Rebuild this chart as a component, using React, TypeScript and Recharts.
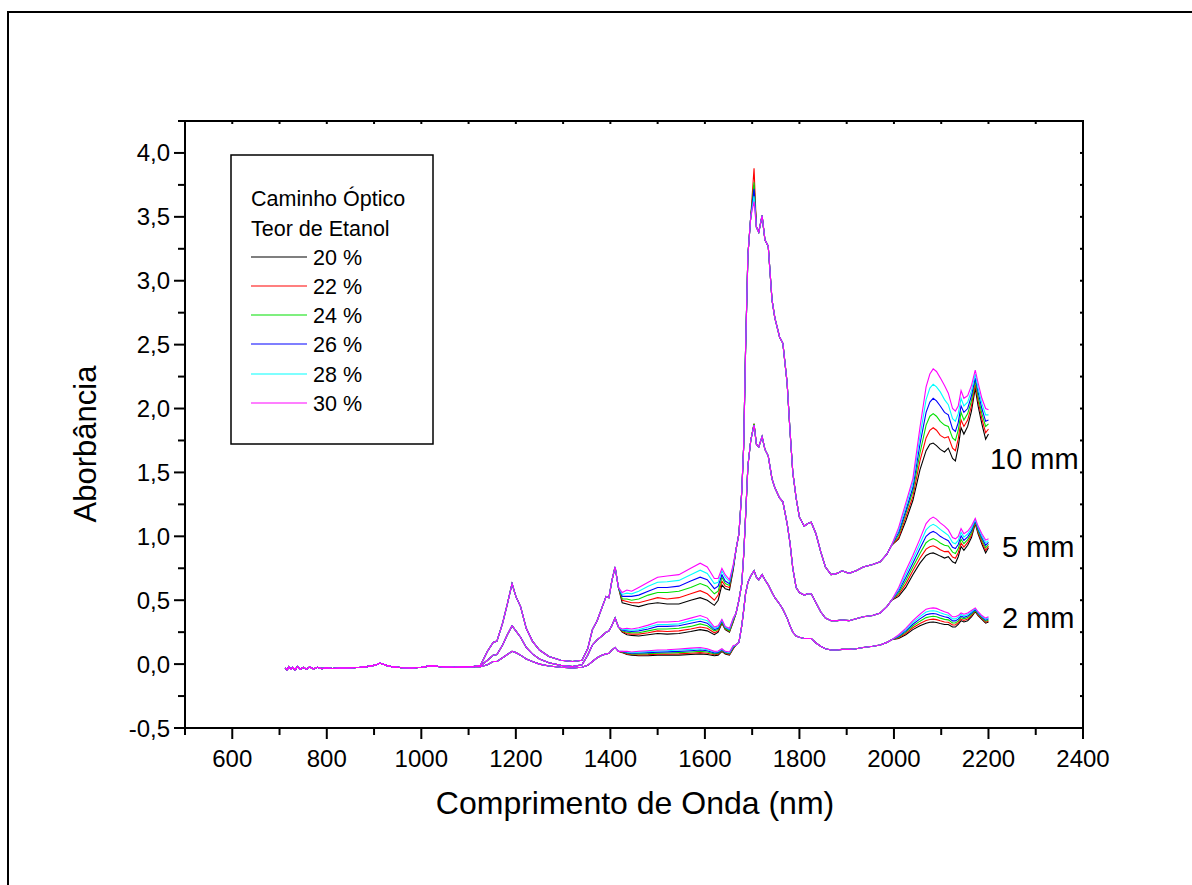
import { LineChart, Line, XAxis, YAxis } from 'recharts';

const concentrations = ['20 %', '22 %', '24 %', '26 %', '28 %', '30 %'];
const pathLabels = ['10 mm', '5 mm', '2 mm'];
const lineColors = ['#000000', '#ff0000', '#00e000', '#0000ff', '#00ffff', '#ff00ff'];

const xTicks = [500, 600, 700, 800, 900, 1000, 1100, 1200, 1300, 1400, 1500, 1600, 1700, 1800, 1900, 2000, 2100, 2200, 2300, 2400];
const yTicks = [-0.5, -0.25, 0, 0.25, 0.5, 0.75, 1, 1.25, 1.5, 1.75, 2, 2.25, 2.5, 2.75, 3, 3.25, 3.5, 3.75, 4, 4.25];

// baseline region, same for every curve
const wlLow = [712, 716, 720, 724, 728, 733, 738, 744, 750, 757, 764, 772, 780, 790, 800, 812, 825, 840, 855, 870, 885, 897, 905, 912, 918, 926, 940, 960, 980, 1000, 1012, 1022, 1035, 1050, 1070, 1090, 1110];
const lowAbs = [-0.03, -0.045, -0.02, -0.04, -0.025, -0.045, -0.02, -0.04, -0.025, -0.04, -0.022, -0.038, -0.025, -0.035, -0.028, -0.034, -0.03, -0.03, -0.028, -0.025, -0.02, -0.012, -0.005, 0.008, 0.0, -0.01, -0.022, -0.028, -0.03, -0.025, -0.018, -0.012, -0.018, -0.022, -0.025, -0.022, -0.02];

// 1125-1417 nm, per optical path
const wlA = [1125, 1140, 1152, 1160, 1172, 1182, 1192, 1200, 1210, 1222, 1235, 1250, 1270, 1295, 1320, 1340, 1352, 1362, 1372, 1382, 1391, 1397, 1403, 1410, 1417];
const a10 = [-0.01, 0.1, 0.17, 0.18, 0.32, 0.47, 0.63, 0.53, 0.45, 0.28, 0.18, 0.11, 0.06, 0.03, 0.02, 0.03, 0.12, 0.27, 0.34, 0.44, 0.53, 0.52, 0.65, 0.76, 0.6];
const a5 = [-0.015, 0.03, 0.07, 0.075, 0.15, 0.23, 0.3, 0.26, 0.21, 0.13, 0.08, 0.04, 0.01, -0.01, -0.02, -0.005, 0.07, 0.15, 0.19, 0.22, 0.25, 0.26, 0.3, 0.36, 0.29];
const a2 = [-0.02, -0.005, 0.02, 0.02, 0.05, 0.075, 0.1, 0.09, 0.07, 0.04, 0.02, 0.0, -0.015, -0.025, -0.03, -0.025, -0.01, 0.02, 0.05, 0.07, 0.08, 0.085, 0.11, 0.13, 0.1];

// 1425-1660 nm, per path and ethanol content
const wlB = [1425, 1435, 1445, 1460, 1480, 1500, 1520, 1545, 1570, 1590, 1605, 1620, 1628, 1636, 1643, 1652, 1660];
const b10_20 = [0.48, 0.47, 0.46, 0.45, 0.47, 0.48, 0.47, 0.47, 0.5, 0.52, 0.5, 0.46, 0.5, 0.62, 0.59, 0.58, 0.74];
const b10_22 = [0.5, 0.49, 0.48, 0.48, 0.5, 0.52, 0.51, 0.52, 0.55, 0.575, 0.55, 0.5, 0.54, 0.65, 0.61, 0.6, 0.75];
const b10_24 = [0.51, 0.51, 0.5, 0.51, 0.54, 0.56, 0.56, 0.57, 0.6, 0.63, 0.61, 0.55, 0.57, 0.68, 0.63, 0.615, 0.76];
const b10_26 = [0.53, 0.53, 0.53, 0.54, 0.57, 0.6, 0.6, 0.61, 0.65, 0.68, 0.66, 0.59, 0.61, 0.7, 0.65, 0.63, 0.76];
const b10_28 = [0.545, 0.555, 0.55, 0.57, 0.61, 0.64, 0.645, 0.655, 0.7, 0.735, 0.71, 0.63, 0.64, 0.73, 0.68, 0.645, 0.77];
const b10_30 = [0.56, 0.58, 0.57, 0.6, 0.64, 0.68, 0.69, 0.7, 0.75, 0.79, 0.76, 0.67, 0.67, 0.75, 0.7, 0.66, 0.78];

const b5_20 = [0.25, 0.23, 0.225, 0.22, 0.23, 0.24, 0.235, 0.24, 0.255, 0.27, 0.26, 0.23, 0.25, 0.32, 0.27, 0.25, 0.33];
const b5_22 = [0.255, 0.24, 0.235, 0.235, 0.245, 0.26, 0.255, 0.26, 0.275, 0.29, 0.28, 0.245, 0.26, 0.325, 0.275, 0.255, 0.335];
const b5_24 = [0.26, 0.25, 0.245, 0.245, 0.26, 0.275, 0.275, 0.28, 0.295, 0.315, 0.3, 0.26, 0.27, 0.33, 0.28, 0.26, 0.34];
const b5_26 = [0.265, 0.26, 0.255, 0.26, 0.275, 0.295, 0.295, 0.3, 0.32, 0.335, 0.32, 0.27, 0.28, 0.34, 0.285, 0.27, 0.35];
const b5_28 = [0.27, 0.27, 0.265, 0.27, 0.29, 0.31, 0.31, 0.315, 0.34, 0.355, 0.34, 0.28, 0.29, 0.345, 0.29, 0.275, 0.355];
const b5_30 = [0.275, 0.28, 0.275, 0.285, 0.305, 0.33, 0.33, 0.335, 0.36, 0.38, 0.36, 0.29, 0.3, 0.35, 0.295, 0.28, 0.36];

const b2_20 = [0.09, 0.075, 0.07, 0.065, 0.065, 0.07, 0.07, 0.07, 0.075, 0.08, 0.075, 0.065, 0.07, 0.1, 0.08, 0.07, 0.12];
const b2_22 = [0.092, 0.08, 0.075, 0.072, 0.074, 0.078, 0.078, 0.08, 0.085, 0.09, 0.085, 0.073, 0.077, 0.105, 0.085, 0.075, 0.125];
const b2_24 = [0.095, 0.085, 0.08, 0.08, 0.082, 0.086, 0.087, 0.09, 0.095, 0.1, 0.095, 0.08, 0.084, 0.108, 0.088, 0.08, 0.13];
const b2_26 = [0.098, 0.09, 0.085, 0.087, 0.09, 0.094, 0.096, 0.1, 0.105, 0.11, 0.105, 0.088, 0.09, 0.112, 0.092, 0.085, 0.135];
const b2_28 = [0.1, 0.095, 0.09, 0.094, 0.098, 0.102, 0.105, 0.11, 0.115, 0.12, 0.113, 0.095, 0.097, 0.116, 0.096, 0.09, 0.14];
const b2_30 = [0.1, 0.1, 0.095, 0.1, 0.105, 0.11, 0.112, 0.118, 0.125, 0.13, 0.12, 0.1, 0.103, 0.12, 0.1, 0.095, 0.145];

// rising edge of the 1704 nm band, per path
const wlC1 = [1666, 1672, 1678, 1682, 1686, 1691, 1697];
const c1_10 = [0.9, 1.02, 1.35, 1.7, 2.45, 3.2, 3.5];
const c1_5 = [0.4, 0.5, 0.63, 0.85, 1.15, 1.55, 1.75];
const c1_2 = [0.15, 0.17, 0.3, 0.42, 0.55, 0.64, 0.69];

// band maximum at 1704 nm
const wlPeak = 1704;
const peak10 = [3.75, 3.88, 3.77, 3.72, 3.66, 3.62];
const peak5 = [1.88, 1.88, 1.88, 1.87, 1.87, 1.87];
const peak2 = [0.73, 0.73, 0.73, 0.73, 0.73, 0.73];

// 1709-1995 nm, per path
const wlC2 = [1709, 1714, 1721, 1727, 1734, 1742, 1748, 1758, 1765, 1774, 1780, 1786, 1793, 1800, 1810, 1818, 1825, 1835, 1845, 1855, 1867, 1880, 1890, 1905, 1920, 1935, 1955, 1971, 1985, 1995];
const c2_10 = [3.42, 3.38, 3.51, 3.32, 3.27, 2.85, 2.71, 2.56, 2.51, 2.2, 1.83, 1.5, 1.3, 1.15, 1.08, 1.1, 1.11, 1.02, 0.88, 0.76, 0.7, 0.71, 0.73, 0.71, 0.73, 0.76, 0.78, 0.8, 0.86, 0.93];
const c2_5 = [1.72, 1.7, 1.78, 1.68, 1.63, 1.45, 1.38, 1.3, 1.27, 1.1, 0.95, 0.75, 0.6, 0.56, 0.54, 0.55, 0.55, 0.48, 0.41, 0.36, 0.34, 0.34, 0.345, 0.34, 0.355, 0.37, 0.38, 0.4, 0.45, 0.5];
const c2_2 = [0.68, 0.66, 0.7, 0.66, 0.62, 0.56, 0.52, 0.47, 0.43, 0.36, 0.3, 0.25, 0.22, 0.21, 0.2, 0.2, 0.2, 0.165, 0.14, 0.12, 0.11, 0.11, 0.115, 0.115, 0.12, 0.13, 0.14, 0.15, 0.17, 0.19];

// 2010-2200 nm, per path and ethanol content
const wlD = [2010, 2025, 2040, 2055, 2068, 2076, 2083, 2090, 2098, 2107, 2115, 2124, 2130, 2136, 2142, 2148, 2156, 2164, 2172, 2178, 2186, 2194, 2200];
const d10_20 = [0.98, 1.12, 1.28, 1.52, 1.67, 1.72, 1.73, 1.71, 1.68, 1.66, 1.69, 1.61, 1.59, 1.7, 1.85, 1.8, 1.86, 1.98, 2.16, 2.02, 1.88, 1.76, 1.8];
const d10_22 = [0.99, 1.15, 1.31, 1.59, 1.77, 1.83, 1.85, 1.83, 1.79, 1.77, 1.78, 1.69, 1.67, 1.76, 1.91, 1.86, 1.91, 2.02, 2.19, 2.06, 1.92, 1.81, 1.84];
const d10_24 = [1.01, 1.18, 1.35, 1.65, 1.87, 1.94, 1.96, 1.94, 1.9, 1.87, 1.86, 1.77, 1.75, 1.83, 1.97, 1.91, 1.96, 2.06, 2.22, 2.09, 1.96, 1.86, 1.88];
const d10_26 = [1.03, 1.2, 1.38, 1.72, 1.97, 2.05, 2.08, 2.06, 2.02, 1.97, 1.95, 1.84, 1.82, 1.89, 2.02, 1.97, 2.0, 2.1, 2.24, 2.13, 2.0, 1.9, 1.91];
const d10_28 = [1.05, 1.23, 1.42, 1.78, 2.07, 2.16, 2.19, 2.17, 2.13, 2.07, 2.03, 1.92, 1.9, 1.96, 2.08, 2.02, 2.05, 2.14, 2.27, 2.16, 2.04, 1.95, 1.95];
const d10_30 = [1.07, 1.26, 1.45, 1.85, 2.17, 2.27, 2.31, 2.29, 2.24, 2.18, 2.12, 2.0, 1.98, 2.02, 2.14, 2.08, 2.1, 2.18, 2.3, 2.2, 2.08, 2.0, 1.99];

const d5_20 = [0.53, 0.6, 0.7, 0.79, 0.85, 0.865, 0.87, 0.86, 0.845, 0.83, 0.84, 0.8, 0.79, 0.84, 0.92, 0.89, 0.93, 0.99, 1.1, 1.02, 0.94, 0.87, 0.91];
const d5_22 = [0.544, 0.626, 0.73, 0.828, 0.9, 0.918, 0.926, 0.915, 0.895, 0.88, 0.882, 0.838, 0.828, 0.872, 0.948, 0.916, 0.952, 1.008, 1.108, 1.032, 0.956, 0.89, 0.924];
const d5_24 = [0.558, 0.652, 0.76, 0.866, 0.95, 0.972, 0.982, 0.97, 0.948, 0.93, 0.924, 0.876, 0.866, 0.904, 0.976, 0.942, 0.974, 1.026, 1.116, 1.044, 0.972, 0.91, 0.938];
const d5_26 = [0.572, 0.678, 0.79, 0.904, 1.0, 1.026, 1.038, 1.025, 1.0, 0.98, 0.966, 0.914, 0.904, 0.936, 1.004, 0.968, 0.996, 1.044, 1.124, 1.056, 0.988, 0.93, 0.952];
const d5_28 = [0.586, 0.704, 0.82, 0.942, 1.05, 1.08, 1.094, 1.08, 1.054, 1.03, 1.008, 0.952, 0.942, 0.968, 1.032, 0.994, 1.018, 1.062, 1.132, 1.068, 1.004, 0.95, 0.966];
const d5_30 = [0.6, 0.73, 0.85, 0.98, 1.1, 1.135, 1.15, 1.135, 1.105, 1.08, 1.05, 0.99, 0.98, 1.0, 1.06, 1.02, 1.04, 1.08, 1.14, 1.08, 1.02, 0.97, 0.98];

const d2_20 = [0.2, 0.23, 0.27, 0.3, 0.32, 0.328, 0.33, 0.326, 0.318, 0.31, 0.31, 0.29, 0.29, 0.31, 0.34, 0.33, 0.34, 0.37, 0.41, 0.38, 0.35, 0.32, 0.33];
const d2_22 = [0.206, 0.24, 0.284, 0.318, 0.342, 0.349, 0.352, 0.348, 0.339, 0.33, 0.328, 0.306, 0.306, 0.324, 0.352, 0.342, 0.352, 0.38, 0.416, 0.386, 0.356, 0.328, 0.338];
const d2_24 = [0.212, 0.25, 0.298, 0.336, 0.364, 0.371, 0.374, 0.37, 0.36, 0.35, 0.346, 0.322, 0.322, 0.338, 0.364, 0.354, 0.364, 0.39, 0.422, 0.392, 0.362, 0.336, 0.346];
const d2_26 = [0.218, 0.26, 0.312, 0.354, 0.386, 0.393, 0.396, 0.392, 0.381, 0.37, 0.364, 0.338, 0.338, 0.352, 0.376, 0.366, 0.376, 0.4, 0.428, 0.398, 0.368, 0.344, 0.354];
const d2_28 = [0.224, 0.27, 0.326, 0.372, 0.408, 0.415, 0.418, 0.414, 0.402, 0.39, 0.382, 0.354, 0.354, 0.366, 0.388, 0.378, 0.388, 0.41, 0.434, 0.404, 0.374, 0.352, 0.362];
const d2_30 = [0.23, 0.28, 0.34, 0.39, 0.43, 0.437, 0.44, 0.436, 0.423, 0.41, 0.4, 0.37, 0.37, 0.38, 0.4, 0.39, 0.4, 0.42, 0.44, 0.41, 0.38, 0.36, 0.37];

const segA = [a10, a5, a2];
const segB = [
  [b10_20, b10_22, b10_24, b10_26, b10_28, b10_30],
  [b5_20, b5_22, b5_24, b5_26, b5_28, b5_30],
  [b2_20, b2_22, b2_24, b2_26, b2_28, b2_30],
];
const segC1 = [c1_10, c1_5, c1_2];
const segPeak = [peak10, peak5, peak2];
const segC2 = [c2_10, c2_5, c2_2];
const segD = [
  [d10_20, d10_22, d10_24, d10_26, d10_28, d10_30],
  [d5_20, d5_22, d5_24, d5_26, d5_28, d5_30],
  [d2_20, d2_22, d2_24, d2_26, d2_28, d2_30],
];

const zip = (xs: number[], ys: number[]) => xs.map((wl, i) => ({ wl, abs: ys[i] }));

const series = concentrations.flatMap((conc, ci) =>
  pathLabels.map((path, pi) => ({
    key: `${path}-${conc}`,
    color: lineColors[ci],
    data: [
      ...zip(wlLow, lowAbs),
      ...zip(wlA, segA[pi]),
      ...zip(wlB, segB[pi][ci]),
      ...zip(wlC1, segC1[pi]),
      { wl: wlPeak, abs: segPeak[pi][ci] },
      ...zip(wlC2, segC2[pi]),
      ...zip(wlD, segD[pi][ci]),
    ],
  }))
);

const FONT = '"Liberation Sans", Arial, sans-serif';
const TICK_FONT = 24;

const fmtY = (v: number) => v.toFixed(1).replace('.', ',');

const BottomTick = (props: any) => {
  const { x, y, payload } = props;
  const v = payload.value;
  const major = v % 200 === 0;
  return (
    <g>
      <line x1={x} x2={x} y1={y} y2={y + (major ? 11 : 7)} stroke="#000" strokeWidth={2} />
      {major && v >= 600 && (
        <text x={x} y={y + 39} textAnchor="middle" fontSize={TICK_FONT} fontFamily={FONT} fill="#000">
          {v}
        </text>
      )}
    </g>
  );
};

const LeftTick = (props: any) => {
  const { x, y, payload } = props;
  const v = payload.value;
  const major = Math.abs(v * 2 - Math.round(v * 2)) < 1e-6;
  return (
    <g>
      <line x1={x} x2={x - (major ? 11 : 7)} y1={y} y2={y} stroke="#000" strokeWidth={2} />
      {major && (
        <text x={x - 15} y={y + 8.5} textAnchor="end" fontSize={TICK_FONT} fontFamily={FONT} fill="#000">
          {fmtY(v)}
        </text>
      )}
    </g>
  );
};

const TopTick = (props: any) => {
  const { x, y } = props;
  return <line x1={x} x2={x} y1={y - 1} y2={y + 3} stroke="#000" strokeWidth={2} />;
};

const RightTick = (props: any) => {
  const { x, y } = props;
  return <line x1={x + 1} x2={x - 3} y1={y} y2={y} stroke="#000" strokeWidth={2} />;
};

const axisLine = { stroke: '#000', strokeWidth: 2 };

export default function App() {
  const legendRows = [190, 220, 249, 278, 307, 336, 366, 395];
  return (
    <>
      <div
        style={{
          position: 'absolute',
          left: 7,
          top: 11,
          width: 1185,
          height: 874,
          borderLeft: '2px solid #000',
          borderTop: '2px solid #000',
          boxSizing: 'border-box',
        }}
      />
      <div style={{ position: 'relative', width: 1176, height: 869 }}>
        <LineChart width={1176} height={869} margin={{ top: 103, right: 91, bottom: 109, left: 117 }}>
          <XAxis
            type="number"
            dataKey="wl"
            domain={[500, 2400]}
            allowDataOverflow
            ticks={xTicks}
            interval={0}
            tickSize={0}
            tickMargin={0}
            tickLine={false}
            tick={<BottomTick />}
            axisLine={axisLine}
            height={40}
          />
          <XAxis
            xAxisId="top"
            orientation="top"
            type="number"
            dataKey="wl"
            domain={[500, 2400]}
            allowDataOverflow
            ticks={xTicks}
            interval={0}
            tickSize={0}
            tickMargin={0}
            tickLine={false}
            tick={<TopTick />}
            axisLine={axisLine}
            height={10}
          />
          <YAxis
            type="number"
            domain={[-0.5, 4.25]}
            allowDataOverflow
            ticks={yTicks}
            interval={0}
            tickSize={0}
            tickMargin={0}
            tickLine={false}
            tick={<LeftTick />}
            axisLine={axisLine}
            width={60}
          />
          <YAxis
            yAxisId="right"
            orientation="right"
            type="number"
            domain={[-0.5, 4.25]}
            allowDataOverflow
            ticks={yTicks}
            interval={0}
            tickSize={0}
            tickMargin={0}
            tickLine={false}
            tick={<RightTick />}
            axisLine={axisLine}
            width={10}
          />
          {series.map((s) => (
            <Line
              key={s.key}
              data={s.data}
              dataKey="abs"
              type="linear"
              stroke={s.color}
              strokeWidth={1.1}
              dot={false}
              activeDot={false}
              isAnimationActive={false}
            />
          ))}
        </LineChart>
        <svg
          width={1176}
          height={869}
          style={{ position: 'absolute', left: 0, top: 0, pointerEvents: 'none' }}
          fontFamily={FONT}
        >
          <rect x={223} y={147} width={202} height={289} fill="none" stroke="#000" strokeWidth={1.5} />
          <text x={243} y={legendRows[0] + 7.5} fontSize={21.5}>Caminho Óptico</text>
          <text x={243} y={legendRows[1] + 7.5} fontSize={21.5}>Teor de Etanol</text>
          {concentrations.map((c, i) => (
            <g key={c}>
              <line x1={243} x2={299} y1={legendRows[i + 2]} y2={legendRows[i + 2]} stroke={lineColors[i]} strokeWidth={1.2} />
              <text x={305} y={legendRows[i + 2] + 7.5} fontSize={21.5}>{c}</text>
            </g>
          ))}
          <text x={982} y={461} fontSize={29}>{pathLabels[0]}</text>
          <text x={994} y={549} fontSize={29}>{pathLabels[1]}</text>
          <text x={994} y={620} fontSize={29}>{pathLabels[2]}</text>
          <text x={627} y={806} fontSize={32} textAnchor="middle">Comprimento de Onda (nm)</text>
          <text x={88} y={436} fontSize={31} textAnchor="middle" transform="rotate(-90 88 436)">
            Aborbância
          </text>
        </svg>
      </div>
    </>
  );
}
